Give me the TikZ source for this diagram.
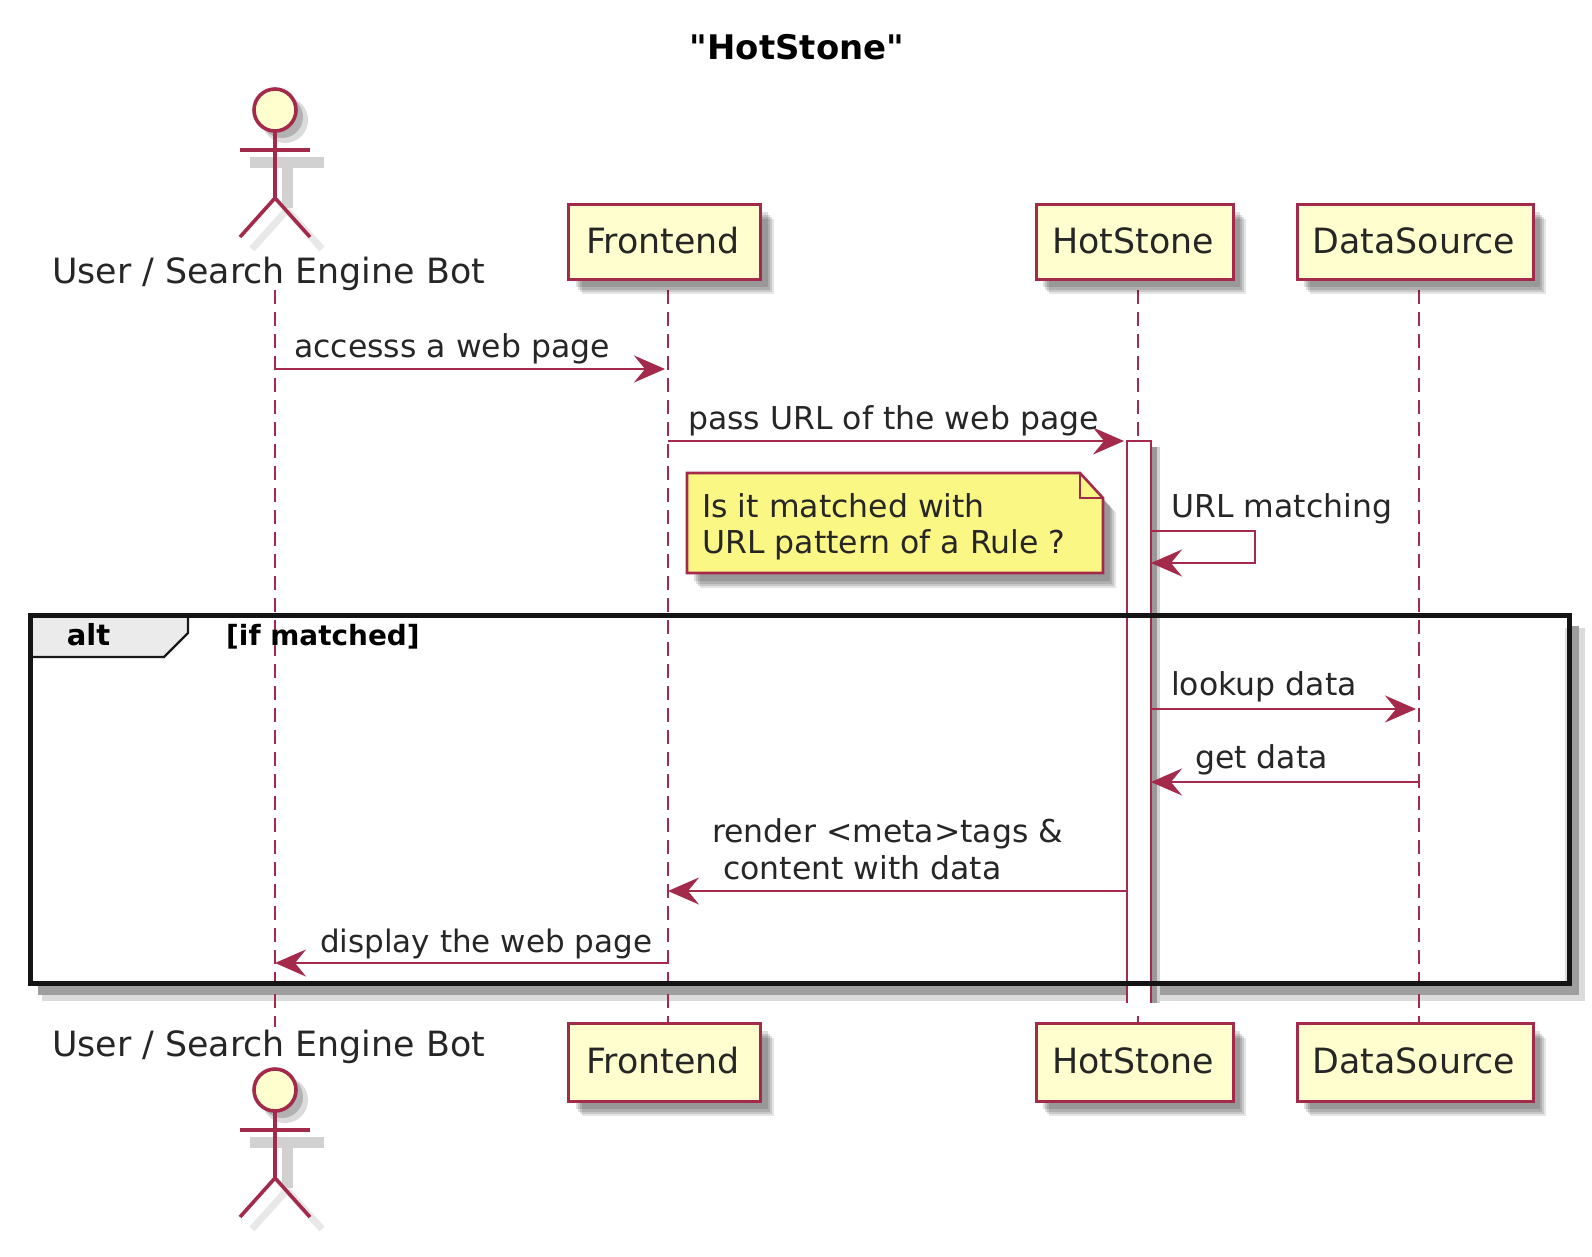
\documentclass[tikz,border=0pt]{standalone}
\usepackage{fontspec}
\setmainfont[Ligatures=TeXOff]{DejaVu Sans}
\usetikzlibrary{arrows.meta,shadows}
\definecolor{umlline}{HTML}{A32A4B}
\definecolor{umlfill}{HTML}{FEFECE}
\definecolor{notefill}{HTML}{FBF785}
\tikzset{
	softshadow/.style={
		general shadow={fill=black,opacity=.1,shadow xshift=13pt,shadow yshift=-15pt},
		general shadow={fill=black,opacity=.12,shadow xshift=11pt,shadow yshift=-13pt},
		general shadow={fill=black,opacity=.13,shadow xshift=9pt,shadow yshift=-11pt},
		general shadow={fill=black,opacity=.13,shadow xshift=7pt,shadow yshift=-8pt}},
	label/.style={anchor=base west,inner sep=0pt,text=black!85,font=\fontsize{31.5}{38}\selectfont},
	boxlabel/.style={anchor=base,inner sep=0pt,text=black!85,font=\fontsize{34.8}{42}\selectfont},
	bold/.style={anchor=base,inner sep=0pt,font=\bfseries\fontsize{29}{36}\selectfont},
	partbox/.style={draw=umlline,fill=umlfill,line width=3pt,softshadow},
	life/.style={draw=umlline,line width=2.4pt,dash pattern=on 14pt off 8pt},
	msg/.style={draw=umlline,line width=2.6pt,-{Stealth[length=31pt,width=27pt,inset=11pt]},shorten >=3pt},
	soft/.style={draw=black!18,line width=11pt},
	faint/.style={draw=black!9,line width=7pt},
	actorline/.style={umlline,line width=3.6pt},
}
\begin{document}
\begin{tikzpicture}[x=1pt,y=-1pt]
	\useasboundingbox (0,0) rectangle (1592,1256);
	\node[bold,font=\bfseries\fontsize{33.9}{38}\selectfont] (title) at (797,59) {"HotStone"};
	% shadow of the alt frame
	\draw[black!14,line width=20pt] (1575,628) -- (1575,991) -- (42,991);
	\draw[black!38,line width=10pt] (1574,626) -- (1574,990) -- (38,990);
	% ends of the lifelines
	\coordinate (usertop) at (275,290);
	\coordinate (userbot) at (275,1027);
	\coordinate (fronttop) at (668,290);
	\coordinate (frontbot) at (668,1023);
	\coordinate (hottop) at (1138,290);
	\coordinate (hotbot) at (1138,1023);
	\coordinate (datatop) at (1419,290);
	\coordinate (databot) at (1419,1023);
	\draw[life] (usertop) -- (userbot);
	\draw[life] (fronttop) -- (frontbot);
	\draw[life] (hottop) -- (hotbot);
	\draw[life] (datatop) -- (databot);
	% participants
	\node[partbox,minimum width=192pt,minimum height=75pt] (front) at (664.5,241.5) {};
	\node[partbox,minimum width=197pt,minimum height=75pt] (hot) at (1134.5,241.5) {};
	\node[partbox,minimum width=236pt,minimum height=75pt] (data) at (1415,241.5) {};
	\node[partbox,minimum width=192pt,minimum height=78pt] (frontb) at (664.5,1062) {};
	\node[partbox,minimum width=197pt,minimum height=78pt] (hotb) at (1134.5,1062) {};
	\node[partbox,minimum width=236pt,minimum height=78pt] (datab) at (1415,1062) {};
	\node[boxlabel] (frontl) at (663,253) {Frontend};
	\node[boxlabel] (hotl) at (1133,253) {HotStone};
	\node[boxlabel] (datal) at (1414,253) {DataSource};
	\node[boxlabel] (frontbl) at (663,1073) {Frontend};
	\node[boxlabel] (hotbl) at (1133,1073) {HotStone};
	\node[boxlabel] (databl) at (1414,1073) {DataSource};
	% actors
	\foreach \ay in {0,980} {
		\draw[soft] (250,162+\ay) -- (324,162+\ay);
		\draw[soft] (287,162+\ay) -- (287,208+\ay);
		\draw[faint] (287,210+\ay) -- (252,249+\ay);
		\draw[faint] (287,210+\ay) -- (322,249+\ay);
		\fill[black!14] (285,120+\ay) circle[radius=23];
		\fill[black!30] (282,117+\ay) circle[radius=21];
		\draw[actorline,fill=umlfill] (275,110+\ay) circle[radius=21];
		\draw[actorline] (275,131+\ay) -- (275,198+\ay);
		\draw[actorline] (240,150+\ay) -- (310,150+\ay);
		\draw[actorline] (275,198+\ay) -- (240,237+\ay);
		\draw[actorline] (275,198+\ay) -- (310,237+\ay);
	}
	\node[boxlabel] (user) at (268.5,283) {User / Search Engine Bot};
	\node[boxlabel] (userb) at (268.5,1056) {User / Search Engine Bot};
	% activation
	\fill[black!18] (1151,447) rectangle (1160,1003);
	\fill[black!40] (1151,447) rectangle (1157,1003);
	\fill[white] (1127,441) rectangle (1151,1012);
	\draw[umlline,line width=2.4pt] (1127,1003) -- (1127,441) -- (1151,441) -- (1151,1003);
	% note
	\draw[umlline,line width=2.6pt,fill=notefill,softshadow] (687,473) -- (1080,473) -- (1103,498) -- (1103,573) -- (687,573) -- cycle;
	\draw[umlline,line width=2.6pt] (1080,473) -- (1080,498) -- (1103,498);
	\node[label] (note1) at (702,517) {Is it matched with};
	\node[label] (note2) at (702,553) {URL pattern of a Rule ?};
	% alt frame
	\fill[black!8] (32,617) -- (188,617) -- (188,633) -- (164,657) -- (32,657) -- cycle;
	\draw[black!90,line width=2.4pt] (188,617) -- (188,633) -- (164,657) -- (32,657);
	\draw[black!92,line width=5pt] (30,615) rectangle (1569,983);
	\node[bold] (alttag) at (88.5,645) {alt};
	\node[bold,anchor=base west,font=\bfseries\fontsize{27.9}{36}\selectfont] (altcond) at (226,645) {[if matched]};
	% messages
	\coordinate (m1a) at (275,369);
	\coordinate (m1b) at (668,369);
	\coordinate (m2a) at (668,441);
	\coordinate (m2b) at (1127,441);
	\coordinate (m3a) at (1151,531);
	\coordinate (m3b) at (1255,531);
	\coordinate (m3c) at (1255,563);
	\coordinate (m3d) at (1151,563);
	\coordinate (m4a) at (1151,709);
	\coordinate (m4b) at (1419,709);
	\coordinate (m5a) at (1419,782);
	\coordinate (m5b) at (1151,782);
	\coordinate (m6a) at (1127,891);
	\coordinate (m6b) at (668,891);
	\coordinate (m7a) at (668,963);
	\coordinate (m7b) at (275,963);
	\draw[msg] (m1a) -- (m1b);
	\draw[msg] (m2a) -- (m2b);
	\draw[msg,shorten >=0pt] (m3a) -- (m3b) -- (m3c) -- (m3d);
	\draw[msg] (m4a) -- (m4b);
	\draw[msg,shorten >=0pt] (m5a) -- (m5b);
	\draw[msg,shorten >=0pt] (m6a) -- (m6b);
	\draw[msg,shorten >=0pt] (m7a) -- (m7b);
	\node[label] (m1l) at (294,357) {accesss a web page};
	\node[label] (m2l) at (688,429) {pass URL of the web page};
	\node[label] (m3l) at (1171,517) {URL matching};
	\node[label] (m4l) at (1171,695) {lookup data};
	\node[label] (m5l) at (1195,768) {get data};
	\node[label] (m6l) at (712,842) {render <meta>tags \&};
	\node[label] (m6m) at (723,879) {content with data};
	\node[label,font=\fontsize{31}{38}\selectfont] (m7l) at (320,952) {display the web page};
\end{tikzpicture}
\end{document}
